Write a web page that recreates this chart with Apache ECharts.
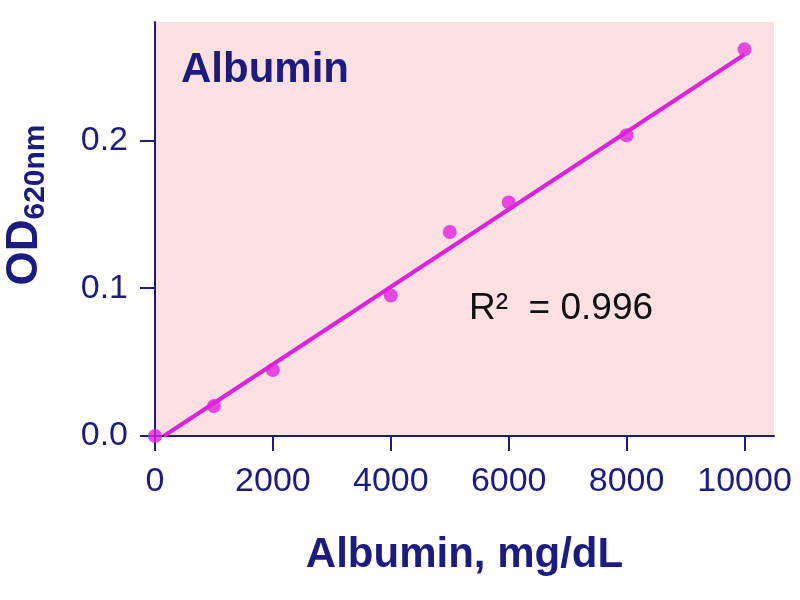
<!DOCTYPE html>
<html>
<head>
<meta charset="utf-8">
<script src="https://cdn.jsdelivr.net/npm/echarts@6/dist/echarts.min.js"></script>
<style>html,body{margin:0;padding:0;background:#fff}#c{width:800px;height:600px}</style>
</head>
<body>
<div id="c"></div>
<script>
var concentrations = [0, 1000, 2000, 4000, 5000, 6000, 8000, 10000];
var odValues = [0.0, 0.0203, 0.0446, 0.095, 0.138, 0.158, 0.2034, 0.2615];
var fitLine = [[150, 0], [10000, 0.258]];
var xTicks = [0, 2000, 4000, 6000, 8000, 10000];
var yTicks = [0, 0.1, 0.2];
var yTickLabels = ['0.0', '0.1', '0.2'];

var navy = '#1c1c80';
var magenta = '#dd22dd';

var chart = echarts.init(document.getElementById('c'));
chart.setOption({
  animation: false,
  title: {
    text: 'Albumin',
    left: 176, top: 44,
    textStyle: { fontFamily: 'Liberation Sans', fontWeight: 'bold', fontSize: 42, color: navy }
  },
  grid: { left: 155, right: 26, top: 22, bottom: 164, show: true, backgroundColor: '#fde0e1', borderWidth: 0, outerBoundsMode: 'none', containLabel: false },
  xAxis: {
    type: 'value', min: 0, max: 10500,
    name: 'Albumin, mg/dL', nameLocation: 'middle', nameGap: 98,
    nameTextStyle: { fontFamily: 'Liberation Sans', fontWeight: 'bold', fontSize: 42, color: navy },
    axisLine: { show: true, lineStyle: { color: navy, width: 2 } },
    axisTick: { show: true, length: 15, lineStyle: { color: navy, width: 2 }, customValues: xTicks },
    axisLabel: {
      customValues: xTicks, margin: 29, fontFamily: 'Liberation Sans', fontSize: 34, color: navy,
      formatter: function (v) { return String(v); }
    },
    splitLine: { show: false }
  },
  yAxis: {
    type: 'value', min: 0, max: 0.28,
    name: '{a|OD}{b|620nm}', nameLocation: 'middle', nameGap: 108,
    nameTextStyle: {
      rich: {
        a: { fontFamily: 'Liberation Sans', fontWeight: 'bold', fontSize: 44, color: navy, padding: [0, 0, 0, 48] },
        b: { fontFamily: 'Liberation Sans', fontWeight: 'bold', fontSize: 30, color: navy, verticalAlign: 'bottom', padding: [0, 0, -4, 0] }
      }
    },
    axisLine: { show: true, lineStyle: { color: navy, width: 2 } },
    axisTick: { show: true, length: 15, lineStyle: { color: navy, width: 2 }, customValues: yTicks },
    axisLabel: {
      customValues: yTicks, margin: 27, fontFamily: 'Liberation Sans', fontSize: 34, color: navy,
      formatter: function (v) { return yTickLabels[yTicks.indexOf(Math.round(v * 10) / 10)]; }
    },
    splitLine: { show: false }
  },
  graphic: [{
    type: 'text', left: 469, top: 290,
    style: {
      text: 'R\u00B2  = 0.996',
      font: '37px "Liberation Sans"',
      fill: '#111'
    }
  }],
  series: [{
    type: 'line', data: fitLine, showSymbol: false, symbol: 'none',
    lineStyle: { color: magenta, width: 4 }, z: 2
  }, {
    type: 'scatter',
    data: concentrations.map(function (x, i) { return [x, odValues[i]]; }),
    symbolSize: 14, itemStyle: { color: magenta }, z: 3
  }]
});
</script>
</body>
</html>
